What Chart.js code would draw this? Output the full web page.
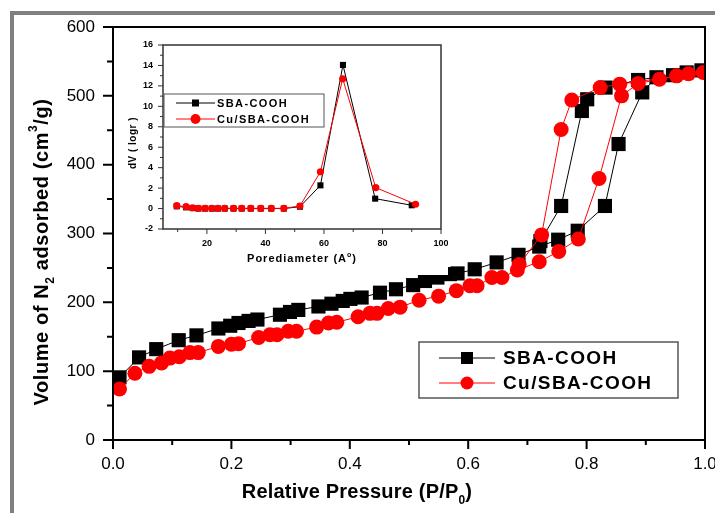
<!DOCTYPE html>
<html>
<head>
<meta charset="utf-8">
<script src="https://cdn.jsdelivr.net/npm/chart.js@4.4.0/dist/chart.umd.min.js"></script>
<style>
  html, body { margin: 0; padding: 0; background: #fff; }
  #wrap  { position: relative; width: 715px; height: 513px; overflow: hidden; }
  #frame { position: absolute; left: 10px; top: 11px; width: 720px; height: 520px;
           border-top: 4px solid #808080; border-left: 4px solid #808080; }
  #main  { position: absolute; left: 0; top: 0; }
  #inset { position: absolute; left: 118px; top: 35px; }
</style>
</head>
<body>
<div id="wrap">
  <div id="frame"></div>
  <canvas id="main" width="715" height="513"></canvas>
  <canvas id="inset" width="330" height="240"></canvas>
</div>
<script>
// ── Isotherm data: adsorption branch, then desorption branch (P/P0, cm3/g) ──
const sbaP = [0.011, 0.044, 0.073, 0.111, 0.141, 0.178, 0.198, 0.212, 0.229, 0.244,
              0.282, 0.299, 0.313, 0.347, 0.369, 0.388, 0.401, 0.420, 0.451, 0.478,
              0.507, 0.527, 0.548, 0.569, 0.582, 0.611, 0.648, 0.685, 0.720, 0.752,
              0.785, 0.831, 0.854, 0.894, 0.918, 0.946, 0.969, 0.994,
              0.887, 0.832, 0.801, 0.792, 0.757, 0.722];
const sbaV = [91, 120, 132, 145, 152, 162, 166, 170, 173, 175,
              182, 186, 189, 194, 198, 202, 205, 207, 214, 219,
              225, 231, 236, 241, 242, 248, 258, 269, 281, 291,
              304, 340, 430, 505, 527, 530, 534, 537,
              523, 512, 495, 478, 340, 289];

const cuP = [0.011, 0.037, 0.061, 0.082, 0.096, 0.112, 0.130, 0.144, 0.178, 0.200,
             0.212, 0.246, 0.265, 0.277, 0.296, 0.310, 0.344, 0.364, 0.378, 0.414,
             0.434, 0.446, 0.465, 0.485, 0.517, 0.550, 0.580, 0.603, 0.615, 0.640,
             0.657, 0.683, 0.720, 0.753, 0.786, 0.821, 0.859, 0.887, 0.923, 0.952,
             0.972, 0.997,
             0.856, 0.823, 0.775, 0.757, 0.724, 0.686];
const cuV = [74, 97, 107, 112, 119, 121, 127, 127, 136, 139,
             140, 149, 153, 153, 158, 158, 164, 170, 171, 179,
             184, 184, 191, 193, 203, 209, 217, 224, 224, 236,
             236, 247, 259, 274, 292, 380, 500, 518, 524, 529,
             532, 534,
             517, 512, 494, 451, 298, 255];

// ── Pore size distribution (inset) ──
const sbaD  = [9.7, 12.9, 15.1, 17.1, 19.4, 21.7, 23.8, 26.1, 29.1, 31.9, 35.0, 38.4, 42.0, 46.3, 51.8, 58.8, 66.5, 77.5, 90.0];
const sbaDV = [0.22, 0.12, 0.05, 0.0, 0.0, 0.0, 0.0, 0.0, 0.0, 0.0, 0.0, 0.0, 0.0, 0.0, 0.18, 2.27, 14.05, 0.97, 0.32];
const cuD   = [9.7, 12.9, 15.1, 17.1, 19.4, 21.7, 23.8, 26.1, 29.1, 31.9, 35.0, 38.4, 42.0, 46.3, 51.8, 58.8, 66.4, 77.7, 91.3];
const cuDV  = [0.28, 0.18, 0.08, 0.03, 0.02, 0.02, 0.02, 0.02, 0.02, 0.02, 0.02, 0.02, 0.02, 0.02, 0.25, 3.6, 12.7, 2.05, 0.42];

// ── Tick values (major ones get labels) ──
const pressureTicks  = [0, 0.1, 0.2, 0.3, 0.4, 0.5, 0.6, 0.7, 0.8, 0.9, 1.0];
const pressureLabels = [0, 0.2, 0.4, 0.6, 0.8, 1.0];
const volumeTicks    = [0, 50, 100, 150, 200, 250, 300, 350, 400, 450, 500, 550, 600];
const volumeLabels   = [0, 100, 200, 300, 400, 500, 600];
const poreTicks      = [10, 20, 30, 40, 50, 60, 70, 80, 90, 100];
const poreLabels     = [20, 40, 60, 80, 100];
const dvTicks        = [-2, -1, 0, 1, 2, 3, 4, 5, 6, 7, 8, 9, 10, 11, 12, 13, 14, 15, 16];
const dvLabels       = [-2, 0, 2, 4, 6, 8, 10, 12, 14, 16];

const FONT = '"Liberation Sans", Arial, sans-serif';
const pts = (xs, ys) => xs.map((x, i) => ({ x, y: ys[i] }));

// text with sub / superscript pieces, centred on (x, y)
function drawRich(ctx, parts, x, y, size, spacing, rotate) {
  ctx.save();
  ctx.translate(x, y);
  if (rotate) ctx.rotate(rotate);
  ctx.fillStyle = "#000";
  ctx.textBaseline = "middle";
  ctx.textAlign = "left";
  ctx.letterSpacing = spacing + "px";
  const fontFor = k => "bold " + (k ? Math.round(size * 0.6) : size) + "px " + FONT;
  const widths = parts.map(([t, k]) => { ctx.font = fontFor(k); return ctx.measureText(t).width; });
  let cx = -widths.reduce((a, b) => a + b, 0) / 2;
  parts.forEach(([t, k], i) => {
    ctx.font = fontFor(k);
    const dy = k === "sub" ? size * 0.42 : k === "sup" ? -size * 0.4 : 0;
    ctx.fillText(t, cx, dy);
    cx += widths[i];
  });
  ctx.restore();
}

function drawLegend(ctx, chart, box, st) {
  ctx.save();
  ctx.fillStyle = "#fff";
  ctx.fillRect(box.x, box.y, box.w, box.h);
  ctx.strokeStyle = "#555";
  ctx.lineWidth = st.boxLine;
  ctx.strokeRect(box.x, box.y, box.w, box.h);
  [chart.data.datasets[0], chart.data.datasets[1]].forEach((ds, i) => {
    const y = box.y + st.firstRow + i * st.rowGap;
    ctx.strokeStyle = ds.borderColor;
    ctx.lineWidth = 1;
    ctx.beginPath();
    ctx.moveTo(box.x + st.lineFrom, y);
    ctx.lineTo(box.x + st.lineTo, y);
    ctx.stroke();
    const mx = box.x + (st.lineFrom + st.lineTo) / 2;
    ctx.fillStyle = ds.backgroundColor;
    if (ds.pointStyle === "rect") {
      ctx.fillRect(mx - st.sq / 2, y - st.sq / 2, st.sq, st.sq);
    } else {
      ctx.beginPath();
      ctx.arc(mx, y, st.r, 0, Math.PI * 2);
      ctx.fill();
    }
    ctx.fillStyle = "#000";
    ctx.font = "bold " + st.size + "px " + FONT;
    ctx.letterSpacing = st.spacing + "px";
    ctx.textBaseline = "middle";
    ctx.textAlign = "left";
    ctx.fillText(ds.label, box.x + st.textX, y + 1);
  });
  ctx.restore();
}

// box round the plot + outward major / minor ticks
function frameAndTicks(ctx, chart, st, xMajors, yMajors) {
  const a = chart.chartArea, xs = chart.scales.x, ys = chart.scales.y;
  ctx.save();
  ctx.strokeStyle = st.color;
  ctx.lineWidth = st.tickWidth;
  ctx.beginPath();
  xs.ticks.forEach(t => {
    const px = xs.getPixelForValue(t.value);
    const len = xMajors.includes(t.value) ? st.xMajor : st.xMinor;
    ctx.moveTo(px, a.bottom);
    ctx.lineTo(px, a.bottom + len);
  });
  ys.ticks.forEach(t => {
    const py = ys.getPixelForValue(t.value);
    const len = yMajors.includes(t.value) ? st.yMajor : st.yMinor;
    ctx.moveTo(a.left, py);
    ctx.lineTo(a.left - len, py);
  });
  ctx.stroke();
  ctx.lineWidth = st.boxWidth;
  ctx.strokeRect(a.left, a.top, a.right - a.left, a.bottom - a.top);
  ctx.restore();
}

// ── Main chart ─────────────────────────────────────────────────────────────

new Chart(document.getElementById("main"), {
  type: "scatter",
  data: {
    datasets: [
      {
        label: "SBA-COOH",
        data: pts(sbaP, sbaV),
        showLine: true,
        borderColor: "#000",
        borderWidth: 1,
        backgroundColor: "#000",
        pointStyle: "rect",
        pointRadius: 10,
        pointBorderWidth: 0,
        order: 1,
      },
      {
        label: "Cu/SBA-COOH",
        data: pts(cuP, cuV),
        showLine: true,
        borderColor: "#ff0000",
        borderWidth: 1,
        backgroundColor: "#ff0000",
        pointStyle: "circle",
        pointRadius: 7.5,
        pointBorderWidth: 0,
        order: 0,
      },
    ],
  },
  options: {
    responsive: false,
    animation: false,
    events: [],
    layout: { padding: { top: 27, right: 10, left: 0, bottom: 0 } },
    plugins: { legend: { display: false }, tooltip: { enabled: false } },
    scales: {
      x: {
        type: "linear", min: 0, max: 1,
        grid: { display: false },
        border: { display: false },
        afterBuildTicks: s => { s.ticks = pressureTicks.map(v => ({ value: v })); },
        afterFit: s => { s.height = 73; s.paddingLeft = 0; s.paddingRight = 0; },
        ticks: {
          autoSkip: false, maxRotation: 0, padding: 6, color: "#000",
          font: { family: FONT, size: 17 },
          callback: v => pressureLabels.includes(v) ? v.toFixed(1) : "",
        },
      },
      y: {
        type: "linear", min: 0, max: 600,
        grid: { display: false },
        border: { display: false },
        afterBuildTicks: s => { s.ticks = volumeTicks.map(v => ({ value: v })); },
        afterFit: s => { s.width = 113; s.paddingTop = 0; s.paddingBottom = 0; },
        ticks: {
          autoSkip: false, padding: 10, color: "#000",
          font: { family: FONT, size: 17 },
          callback: v => volumeLabels.includes(v) ? String(v) : "",
        },
      },
    },
  },
  plugins: [{
    id: "mainDecor",
    afterDraw(chart) {
      const ctx = chart.ctx;
      frameAndTicks(ctx, chart,
        { color: "#000", tickWidth: 2, boxWidth: 2, xMajor: 9, xMinor: 5, yMajor: 10, yMinor: 6 },
        pressureLabels, volumeLabels);
      drawRich(ctx, [["Relative Pressure (P/P"], ["0", "sub"], [")"]], 357, 492, 20, 0.2);
      drawRich(ctx, [["Volume of N"], ["2", "sub"], [" adsorbed (cm"], ["3", "sup"], ["/g)"]],
        42, 252, 20, 0.6, -Math.PI / 2);
      drawLegend(ctx, chart, { x: 419, y: 342, w: 259, h: 56 },
        { boxLine: 1.5, firstRow: 16, rowGap: 25, lineFrom: 20, lineTo: 76, sq: 12, r: 6.5,
          size: 19, spacing: 1.4, textX: 84 });
    },
  }],
});

// ── Inset: pore size distribution ──────────────────────────────────────────

new Chart(document.getElementById("inset"), {
  type: "scatter",
  data: {
    datasets: [
      {
        label: "SBA-COOH",
        data: pts(sbaD, sbaDV),
        showLine: true,
        borderColor: "#000",
        borderWidth: 1,
        backgroundColor: "#000",
        pointStyle: "rect",
        pointRadius: 4.3,
        pointBorderWidth: 0,
        order: 1,
      },
      {
        label: "Cu/SBA-COOH",
        data: pts(cuD, cuDV),
        showLine: true,
        borderColor: "#ff0000",
        borderWidth: 1,
        backgroundColor: "#ff0000",
        pointStyle: "circle",
        pointRadius: 3.6,
        pointBorderWidth: 0,
        order: 0,
      },
    ],
  },
  options: {
    responsive: false,
    animation: false,
    events: [],
    layout: { padding: { top: 10, right: 7, left: 0, bottom: 0 } },
    plugins: { legend: { display: false }, tooltip: { enabled: false } },
    scales: {
      x: {
        type: "linear", min: 5, max: 100,
        grid: { display: false },
        border: { display: false },
        afterBuildTicks: s => { s.ticks = poreTicks.map(v => ({ value: v })); },
        afterFit: s => { s.height = 46; s.paddingLeft = 0; s.paddingRight = 0; },
        ticks: {
          autoSkip: false, maxRotation: 0, padding: 1, color: "#000",
          font: { family: FONT, size: 9, weight: "bold" },
          callback: v => poreLabels.includes(v) ? String(v) : "",
        },
      },
      y: {
        type: "linear", min: -2, max: 16,
        grid: { display: false },
        border: { display: false },
        afterBuildTicks: s => { s.ticks = dvTicks.map(v => ({ value: v })); },
        afterFit: s => { s.width = 45; s.paddingTop = 0; s.paddingBottom = 0; },
        ticks: {
          autoSkip: false, padding: 2, color: "#000",
          font: { family: FONT, size: 9, weight: "bold" },
          callback: v => dvLabels.includes(v) ? String(v) : "",
        },
      },
    },
  },
  plugins: [{
    id: "insetBg",
    beforeDraw(chart) {
      const ctx = chart.ctx;
      ctx.save();
      ctx.fillStyle = "#fff";
      ctx.fillRect(0, 0, chart.width, chart.height);
      ctx.restore();
    },
    afterDraw(chart) {
      const ctx = chart.ctx, a = chart.chartArea;
      frameAndTicks(ctx, chart,
        { color: "#333", tickWidth: 1, boxWidth: 1.5, xMajor: 5, xMinor: 3, yMajor: 5, yMinor: 3 },
        poreLabels, dvLabels);
      drawRich(ctx, [["Porediameter (A"], ["o", "sup"], [")"]], (a.left + a.right) / 2, 224, 11, 1);
      drawRich(ctx, [["dV ( logr )"]], 15, (a.top + a.bottom) / 2 + 6, 10, 0.5, -Math.PI / 2);
      drawLegend(ctx, chart, { x: 46, y: 59, w: 160, h: 33 },
        { boxLine: 1, firstRow: 9, rowGap: 16, lineFrom: 12, lineTo: 51, sq: 7, r: 5,
          size: 11, spacing: 1.4, textX: 53 });
    },
  }],
});
</script>
</body>
</html>
